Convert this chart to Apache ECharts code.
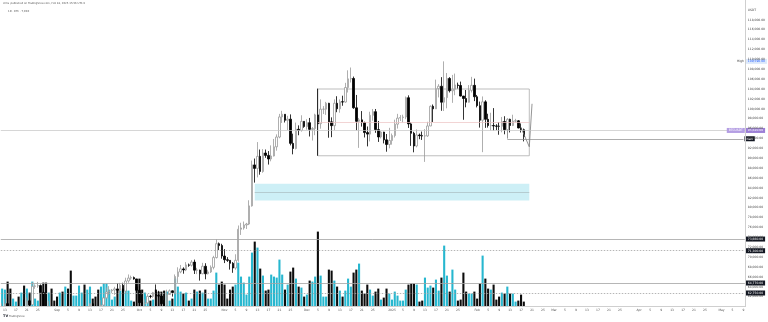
<!DOCTYPE html>
<html>
<head>
<meta charset="utf-8">
<script src="https://cdn.jsdelivr.net/npm/echarts/dist/echarts.min.js"></script>
<style>
html,body{margin:0;padding:0;background:#ffffff;}
#c{width:768px;height:322px;}
</style>
</head>
<body>
<div id="c"></div>
<script>
// ---------- DATA (BTC daily, 2024-08-12 .. 2025-02-18) ----------
const startDate = '2024-08-12';
const endDate = '2025-05-09';

const opens = [
 58700,59350,60600,58740,57560,58870,59480,58440,59490,59010,61160,60380,64100,64180,64250,62830,59420,59030,59370,59120,
 58970,57300,59130,57480,57970,56160,53950,54160,54880,57050,57650,57340,58130,60570,60000,59130,58210,60310,61760,62950,63200,63350,63580,63330,64300,63140,65180,65770,65870,65600,
 63300,60800,60650,60750,62080,62060,62820,62220,62130,60580,60270,62450,63190,62850,66080,67020,67620,67420,68430,68360,69000,67370,67380,66650,68160,66640,67010,67940,69910,72720,72340,
 70220,69480,69350,68750,67800,69360,75640,75900,76510,76700,80370,88650,87950,90380,87320,91060,90580,89850,90460,92310,94290,98350,98890,97670,97900,93010,91970,95860,95640,97460,
 96410,97190,95840,96000,98770,96990,99920,99920,101120,97360,96590,101120,100000,101420,101370,104300,106060,106130,100200,97460,97760,97220,95190,94880,98680,99420,95790,94300,95300,93720,92790,
 93580,94590,96890,98110,98240,98340,102240,96950,95040,92480,94700,94560,94500,94520,96530,100500,99990,104080,104560,101330,102260,106140,103650,103960,104820,104710,102580,102080,101330,103730,104740,
 102430,100640,97690,101400,97870,96610,96610,96530,96470,96460,97430,95780,97870,96620,97510,97570,96120,95770
];
const highs = [
 60700,61580,61800,59850,59800,59700,60260,59600,61400,61830,61400,64950,64500,65000,64480,63200,60230,61170,59460,59430,
 59050,59400,59800,58520,58330,56990,54850,55300,58100,58040,57990,58600,60650,60660,60400,59210,61320,61790,63870,64130,63560,64000,64750,64800,64820,65840,66500,66260,66080,65620,
 64130,62390,61480,62500,62370,62980,64480,63200,62520,61320,63420,63480,63270,66500,67950,68420,67940,69000,68700,69400,69500,67840,67470,68850,68770,67450,68330,70270,73620,72960,72700,
 71630,70000,69400,69000,70580,76400,76950,77200,76930,81500,89530,89940,93270,91760,91850,91760,91450,92600,93900,94830,98970,99590,98890,98580,98870,94970,97210,96650,98690,97470,
 97890,98150,96300,99000,104090,101900,100550,101400,101200,98270,101900,102540,101900,102650,105250,107780,108350,106520,102800,98150,99540,97400,96420,99400,99960,99960,97540,95500,95350,94900,96150,
 95000,97800,98980,98740,98810,102480,102720,97260,95350,95830,95000,95400,95890,97370,100680,100870,105900,104980,106400,109590,107240,106400,106850,107120,105290,105500,102600,103800,104800,106460,106100,
 102800,101460,102500,101730,99000,99200,100140,96880,97320,98350,98500,98120,98000,98800,97970,97730,97040,96000
];
const lows = [
 57600,58400,58450,56100,57100,58780,58400,57800,58600,58800,59800,60340,63600,63800,62800,58050,57860,58750,57740,58740,
 57200,57120,57400,55600,55650,52550,53740,53630,54590,56400,55550,57340,57630,59450,58700,57490,57610,59170,61570,62340,62760,62360,62580,62700,62990,62670,64820,65420,65440,62860,
 60170,59990,59830,60460,61670,61800,62130,61820,60300,58900,60050,62420,62020,62420,64800,66750,66650,67180,68050,68100,66600,66570,65260,66550,65520,66500,66800,67530,69730,71430,69690,
 68800,69040,67480,66830,67450,69060,74490,75560,75700,76490,80220,85070,86130,86670,87070,90090,88720,89380,90360,91530,94040,97140,97230,95700,92600,90790,91790,94650,95380,96160,
 95770,94400,93580,94660,90500,95980,98940,98770,94150,94260,95680,99310,99210,100610,101230,103300,105320,100000,95670,92100,96400,94200,92400,93400,97590,95140,93300,94000,93000,91320,92000,
 92750,94200,96000,97530,97250,97900,96130,92500,91200,92200,93850,93700,89260,94320,96500,97330,99950,102300,99600,99550,100100,103300,101200,102750,104100,102500,97780,100300,101250,103300,101550,
 100280,96200,91230,96150,96200,95650,95620,95690,94750,95250,94840,94090,95220,96500,97250,96050,95200,93400
];
const closes = [
 59350,60600,58740,57560,58870,59480,58440,59490,59010,61160,60380,64100,64180,64250,62830,59420,59030,59370,59120,58970,
 57300,59130,57480,57970,56160,53950,54160,54880,57050,57650,57340,58130,60570,60000,59130,58210,60310,61760,62950,63200,63350,63580,63330,64300,63140,65180,65770,65870,65600,63300,
 60800,60650,60750,62080,62060,62820,62220,62130,60580,60270,62450,63190,62850,66080,67020,67620,67420,68430,68360,69000,67370,67380,66650,68160,66640,67010,67940,69910,72720,72340,70220,
 69480,69350,68750,67800,69360,75640,75900,76510,76700,80370,88650,87950,90380,87320,91060,90580,89850,90460,92310,94290,98350,98890,97670,97900,93010,91970,95860,95640,97460,96410,
 97190,95840,96000,98770,96990,99920,99920,101120,97360,96590,101120,100000,101420,101370,104300,106060,106130,100200,97460,97760,97220,95190,94880,98680,99420,95790,94300,95300,93720,92790,93580,
 94590,96890,98110,98240,98340,102240,96950,95040,92480,94700,94560,94500,94520,96530,100500,99990,104080,104560,101330,102260,106140,103650,103960,104820,104710,102580,102080,101330,103730,104740,102430,
 100640,97690,101400,97870,96610,96610,96530,96470,96460,97430,95780,97870,96620,97510,97570,96120,95770,94400
];
// volume, thousand BTC
const volumes = [
 18,17,25,18,8,5,10,14,21,18,14,25,8,6,14,24,24,14,18,6,
 10,14,15,20,18,36,11,11,21,14,22,17,20,8,10,17,20,23,23,17,7,10,17,16,18,18,16,6,5,20,
 28,17,14,10,6,7,17,15,15,16,15,6,8,28,20,15,13,14,6,8,17,15,16,14,17,8,8,16,34,22,25,
 22,8,17,20,22,44,30,24,12,30,54,65,59,38,31,16,17,32,30,29,47,32,17,22,35,39,28,20,19,10,
 12,26,25,30,75,31,10,10,37,36,26,20,16,10,16,28,20,34,37,43,16,13,22,17,11,15,18,7,9,18,13,
 7,15,11,6,6,17,22,23,23,22,5,6,29,19,21,19,27,16,29,61,31,15,37,17,6,7,34,15,13,13,15,
 8,23,51,28,18,17,22,7,10,14,13,20,13,13,5,6,12,5
];

// price axis
const priceMin = 60000, priceMax = 122000, priceStep = 2000;
const volumeMax = 306.6;

// drawn levels / objects
const priceLine = 95620;          // full-width line, purple tag
const rayLevel = 93940;           // ray with black tag
const highLevel = 109590;         // "High" tag
const supportLevels = [73660, 71300, 64770, 62750];
const supportDotted = [false, true, false, true];
const rangeBox = {from: '2024-12-05', to: '2025-02-20', top: 104000, bottom: 90500, mid: 97250};
const zone = {from: '2024-11-12', to: '2025-02-20', top: 84840, bottom: 81460, mid: 83220};
const rayStart = '2025-02-12';
const pathDates = ['2025-02-17', '2025-02-20', '2025-02-21'];
const pathPrices = [96160, 92320, 101010];
const monthNames = ['Jan','Feb','Mar','Apr','May','Jun','Jul','Aug','Sep','Oct','Nov','Dec'];
const labelDays = [1,5,9,13,17,21,25];

// ---------- BUILD ----------
const dates = [];
(function(){
  let d = new Date(startDate + 'T00:00:00Z');
  const e = new Date(endDate + 'T00:00:00Z');
  while (d <= e) { dates.push(d.toISOString().slice(0,10)); d = new Date(d.getTime() + 86400000); }
})();

const TEAL = '#27b7cf', DOWN = '#0c0c0c';
const fmt = v => Number(v).toLocaleString('en-US', {minimumFractionDigits: 2, maximumFractionDigits: 2});

const candleData = opens.map((o, i) => [o, closes[i], lows[i], highs[i]]);
const volData = volumes.map((v, i) => ({value: v, itemStyle: {color: closes[i] >= opens[i] ? TEAL : DOWN}}));
const pathData = pathDates.map((d, i) => [d, pathPrices[i]]);

const tag = (bg, fg) => ({show: true, position: 'end', distance: 1, backgroundColor: bg, color: fg,
  fontSize: 3, fontFamily: 'DejaVu Sans', padding: [1, 2, 1, 2], formatter: p => fmt(p.value)});

const lineData = [];
supportLevels.forEach((v, i) => lineData.push({yAxis: v,
  lineStyle: {color: '#a3a3a3', width: 0.8, type: supportDotted[i] ? [1.5, 1.5] : 'solid'},
  label: tag('#131722', '#ffffff')}));
lineData.push({yAxis: priceLine, lineStyle: {color: '#c4c4c4', width: 0.7, type: 'solid'}, label: tag('#9c7fd6', '#ffffff')});
lineData.push({yAxis: priceLine, lineStyle: {color: 'rgba(0,0,0,0)', width: 0},
  label: {show: true, position: 'insideEnd', distance: 0, backgroundColor: '#b49ee3', color: '#ffffff', fontSize: 3,
    fontFamily: 'DejaVu Sans', padding: [1, 2, 1, 2], formatter: 'BTCUSDT'}});
lineData.push({yAxis: highLevel, lineStyle: {color: 'rgba(0,0,0,0)', width: 0}, label: tag('#dde9fb', '#2962ff')});
lineData.push({yAxis: highLevel, lineStyle: {color: 'rgba(0,0,0,0)', width: 0},
  label: {show: true, position: 'insideEnd', distance: 1, color: '#333333', fontSize: 3, fontFamily: 'DejaVu Sans', formatter: 'High'}});
// ray
lineData.push([{coord: [rayStart, rayLevel], lineStyle: {color: '#8a8a8a', width: 0.7, type: 'solid'}, label: tag('#131722', '#ffffff')},
               {coord: [dates[dates.length - 1], rayLevel]}]);
lineData.push([{coord: [rayStart, priceLine], lineStyle: {color: '#8a8a8a', width: 0.7, type: 'solid'}, label: {show: false}},
               {coord: [rayStart, rayLevel]}]);
// range-box midline, zone midline
lineData.push([{coord: [rangeBox.from, rangeBox.mid], lineStyle: {color: '#ecc2c2', width: 0.7, type: 'solid'}, label: {show: false}},
               {coord: [rangeBox.to, rangeBox.mid]}]);
lineData.push([{coord: [zone.from, zone.mid], lineStyle: {color: '#a9bcc0', width: 0.7, type: 'solid'}, label: {show: false}},
               {coord: [zone.to, zone.mid]}]);

const chart = echarts.init(document.getElementById('c'), null, {renderer: 'canvas'});
chart.setOption({
  animation: false,
  backgroundColor: '#ffffff',
  textStyle: {fontFamily: 'DejaVu Sans'},
  grid: {left: 0, top: 0, width: 749, height: 306.6, containLabel: false},
  xAxis: {
    type: 'category', data: dates, boundaryGap: true, z: 10,
    axisLine: {show: true, lineStyle: {color: '#cfcfcf', width: 1}},
    axisTick: {show: false},
    splitLine: {show: false},
    axisLabel: {
      interval: (idx, val) => labelDays.indexOf(parseInt(val.slice(8, 10), 10)) >= 0,
      formatter: val => {
        const day = parseInt(val.slice(8, 10), 10), m = parseInt(val.slice(5, 7), 10);
        if (day === 1) return m === 1 ? val.slice(0, 4) : monthNames[m - 1];
        return String(day);
      },
      fontSize: 3, color: '#555555', margin: 2.5, fontFamily: 'DejaVu Sans'
    }
  },
  yAxis: [{
    type: 'value', position: 'right', min: priceMin, max: priceMax, interval: priceStep, scale: false, z: 10,
    axisLine: {show: true, lineStyle: {color: '#cfcfcf', width: 1}},
    axisTick: {show: false}, splitLine: {show: false},
    axisLabel: {
      fontSize: 3, color: '#444444', margin: 3, fontFamily: 'DejaVu Sans',
      formatter: v => v === 120000 ? 'USDT' : (v >= priceMax || v <= priceMin ? '' : fmt(v))
    }
  }, {
    type: 'value', min: 0, max: volumeMax, show: false,
    axisLine: {show: false}, axisLabel: {show: false}, splitLine: {show: false}
  }],
  series: [
    {type: 'bar', name: 'Volume', yAxisIndex: 1, data: volData, barWidth: '76%', z: 1, silent: true},
    {type: 'line', name: 'Drawings', data: [], clip: false, z: 2, silent: true,
      markArea: {silent: true, data: [
        [{xAxis: zone.from, yAxis: zone.top, itemStyle: {color: '#cdeff6', borderWidth: 0}}, {xAxis: zone.to, yAxis: zone.bottom}],
        [{xAxis: rangeBox.from, yAxis: rangeBox.top, itemStyle: {color: 'rgba(0,0,0,0)', borderColor: '#a0a0a0', borderWidth: 0.7}}, {xAxis: rangeBox.to, yAxis: rangeBox.bottom}]
      ]},
      markLine: {silent: true, symbol: ['none', 'none'], animation: false, data: lineData}
    },
    {type: 'candlestick', name: 'BTC', data: candleData, barWidth: '72%', z: 3, silent: true, clip: true,
      itemStyle: {color: '#ffffff', color0: '#000000', borderColor: '#9b9b9b', borderColor0: '#000000', borderWidth: 0.8}},
    {type: 'line', name: 'Path', data: pathData, symbol: 'none', showSymbol: false, z: 4, silent: true,
      lineStyle: {color: '#7a7a7a', width: 0.8}}
  ],
  graphic: [
    // time-scale strip: masks the part of the price pane that lies below the time axis
    {type: 'rect', left: 0, top: 307, z: 6, silent: true, shape: {width: 749, height: 15}, style: {fill: '#ffffff'}},
    {type: 'text', left: 3, top: 2, style: {text: 'chris_published on TradingView.com, Feb 18, 2025 15:56 UTC-5', fontSize: 2.6, fill: '#555555', fontFamily: 'DejaVu Sans'}},
    {type: 'text', left: 8, top: 9.5, style: {text: '1D · BTC · T,BKX', fontSize: 2.6, fill: '#555555', fontFamily: 'DejaVu Sans'}},
    {type: 'text', left: 3, top: 314, z: 12, style: {text: 'TV', fontSize: 3.5, fontWeight: 'bold', fill: '#131722', fontFamily: 'DejaVu Sans'}},
    {type: 'text', left: 9, top: 314.5, z: 12, style: {text: 'TradingView', fontSize: 2.6, fill: '#555555', fontFamily: 'DejaVu Sans'}}
  ]
});
</script>
</body>
</html>
